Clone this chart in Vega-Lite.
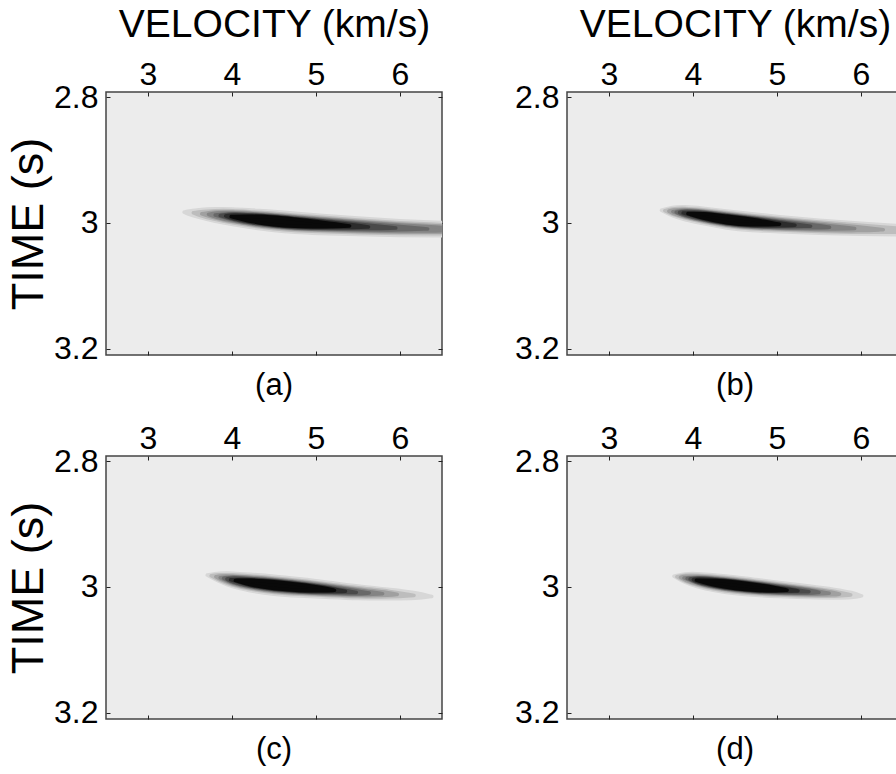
{
"$schema":"https://vega.github.io/schema/vega-lite/v6.json",
"autosize":{"type":"none"},
"padding":{"left":106,"top":92,"right":790,"bottom":682},
"background":"white",
"config":{
 "font":"Liberation Sans",
 "view":{"stroke":"#444","strokeWidth":1.5,"fill":"#ececec"},
 "axis":{"domain":false,"grid":false,"tickSize":-4,"tickColor":"#222","tickWidth":1,"labelFont":"Liberation Sans","labelFontSize":32,"labelColor":"#000","labelFlush":false,"labelOverlap":false,"titleFont":"Liberation Sans","titleFontWeight":"normal","titleColor":"#000"},
 "title":{"font":"Liberation Sans","fontSize":31,"fontWeight":"normal","color":"#000"}
},
"columns":2,
"spacing":{"row":101,"column":125},
"bounds":"flush",
"datasets":{"blob":[
{"p":"a","k":1,"v":3.43,"lo":2.983,"hi":2.983},{"p":"a","k":1,"v":3.45,"lo":2.9817,"hi":2.9847},{"p":"a","k":1,"v":3.6,"lo":2.979,"hi":2.991},{"p":"a","k":1,"v":3.8,"lo":2.9774,"hi":2.9976},{"p":"a","k":1,"v":4.0,"lo":2.9774,"hi":3.0026},{"p":"a","k":1,"v":4.25,"lo":2.9798,"hi":3.0082},{"p":"a","k":1,"v":4.5,"lo":2.9817,"hi":3.0123},{"p":"a","k":1,"v":4.75,"lo":2.9849,"hi":3.0151},{"p":"a","k":1,"v":5.0,"lo":2.9873,"hi":3.0167},{"p":"a","k":1,"v":5.5,"lo":2.9923,"hi":3.0187},{"p":"a","k":1,"v":6.0,"lo":2.9967,"hi":3.0203},{"p":"a","k":1,"v":6.5,"lo":2.9996,"hi":3.0204},
{"p":"a","k":2,"v":3.54,"lo":2.984,"hi":2.984},{"p":"a","k":2,"v":3.6,"lo":2.9822,"hi":2.9878},{"p":"a","k":2,"v":3.8,"lo":2.9803,"hi":2.9947},{"p":"a","k":2,"v":4.0,"lo":2.9802,"hi":2.9998},{"p":"a","k":2,"v":4.25,"lo":2.9826,"hi":3.0054},{"p":"a","k":2,"v":4.5,"lo":2.9846,"hi":3.0094},{"p":"a","k":2,"v":4.75,"lo":2.9878,"hi":3.0122},{"p":"a","k":2,"v":5.0,"lo":2.9904,"hi":3.0136},{"p":"a","k":2,"v":5.5,"lo":2.9954,"hi":3.0156},{"p":"a","k":2,"v":6.0,"lo":2.9999,"hi":3.0171},{"p":"a","k":2,"v":6.5,"lo":3.0028,"hi":3.0172},
{"p":"a","k":3,"v":3.64,"lo":2.9855,"hi":2.9855},{"p":"a","k":3,"v":3.8,"lo":2.9824,"hi":2.9926},{"p":"a","k":3,"v":4.0,"lo":2.982,"hi":2.998},{"p":"a","k":3,"v":4.25,"lo":2.9843,"hi":3.0037},{"p":"a","k":3,"v":4.5,"lo":2.9863,"hi":3.0077},{"p":"a","k":3,"v":4.75,"lo":2.9895,"hi":3.0105},{"p":"a","k":3,"v":5.0,"lo":2.9922,"hi":3.0118},{"p":"a","k":3,"v":5.5,"lo":2.9974,"hi":3.0136},{"p":"a","k":3,"v":6.0,"lo":3.002,"hi":3.015},{"p":"a","k":3,"v":6.5,"lo":3.0051,"hi":3.0149},
{"p":"a","k":4,"v":3.72,"lo":2.9865,"hi":2.9865},{"p":"a","k":4,"v":3.8,"lo":2.9842,"hi":2.9908},{"p":"a","k":4,"v":4.0,"lo":2.9834,"hi":2.9966},{"p":"a","k":4,"v":4.25,"lo":2.9855,"hi":3.0025},{"p":"a","k":4,"v":4.5,"lo":2.9875,"hi":3.0065},{"p":"a","k":4,"v":4.75,"lo":2.9907,"hi":3.0093},{"p":"a","k":4,"v":5.0,"lo":2.9935,"hi":3.0105},{"p":"a","k":4,"v":5.5,"lo":2.9989,"hi":3.0121},{"p":"a","k":4,"v":6.0,"lo":3.0037,"hi":3.0133},{"p":"a","k":4,"v":6.5,"lo":3.0073,"hi":3.0127},
{"p":"a","k":5,"v":3.8,"lo":2.9875,"hi":2.9875},{"p":"a","k":5,"v":4.0,"lo":2.9845,"hi":2.9955},{"p":"a","k":5,"v":4.25,"lo":2.9865,"hi":3.0015},{"p":"a","k":5,"v":4.5,"lo":2.9884,"hi":3.0056},{"p":"a","k":5,"v":4.75,"lo":2.9917,"hi":3.0083},{"p":"a","k":5,"v":5.0,"lo":2.9946,"hi":3.0094},{"p":"a","k":5,"v":5.5,"lo":3.0003,"hi":3.0107},{"p":"a","k":5,"v":6.0,"lo":3.0054,"hi":3.0116},{"p":"a","k":5,"v":6.33,"lo":3.0096,"hi":3.0096},
{"p":"a","k":6,"v":3.86,"lo":2.9883,"hi":2.9883},{"p":"a","k":6,"v":4.0,"lo":2.9856,"hi":2.9944},{"p":"a","k":6,"v":4.25,"lo":2.9874,"hi":3.0006},{"p":"a","k":6,"v":4.5,"lo":2.9893,"hi":3.0047},{"p":"a","k":6,"v":4.75,"lo":2.9925,"hi":3.0075},{"p":"a","k":6,"v":5.0,"lo":2.9955,"hi":3.0085},{"p":"a","k":6,"v":5.5,"lo":3.0017,"hi":3.0093},{"p":"a","k":6,"v":5.95,"lo":3.0082,"hi":3.0082},
{"p":"a","k":7,"v":3.925,"lo":2.989,"hi":2.989},{"p":"a","k":7,"v":4.0,"lo":2.9869,"hi":2.9931},{"p":"a","k":7,"v":4.25,"lo":2.9883,"hi":2.9997},{"p":"a","k":7,"v":4.5,"lo":2.9901,"hi":3.0039},{"p":"a","k":7,"v":4.75,"lo":2.9934,"hi":3.0066},{"p":"a","k":7,"v":5.0,"lo":2.9965,"hi":3.0075},{"p":"a","k":7,"v":5.5,"lo":3.0036,"hi":3.0074},{"p":"a","k":7,"v":5.625,"lo":3.0064,"hi":3.0064},
{"p":"a","k":8,"v":3.99,"lo":2.99,"hi":2.99},{"p":"a","k":8,"v":4.25,"lo":2.9892,"hi":2.9988},{"p":"a","k":8,"v":4.5,"lo":2.9909,"hi":3.0031},{"p":"a","k":8,"v":4.75,"lo":2.9942,"hi":3.0058},{"p":"a","k":8,"v":5.0,"lo":2.9976,"hi":3.0064},{"p":"a","k":8,"v":5.4,"lo":3.005,"hi":3.005},
{"p":"b","k":1,"v":3.625,"lo":2.98,"hi":2.98},{"p":"b","k":1,"v":3.75,"lo":2.975,"hi":2.989},{"p":"b","k":1,"v":3.9,"lo":2.974,"hi":2.995},{"p":"b","k":1,"v":4.1,"lo":2.9762,"hi":3.0008},{"p":"b","k":1,"v":4.4,"lo":2.9813,"hi":3.0087},{"p":"b","k":1,"v":4.7,"lo":2.9855,"hi":3.0125},{"p":"b","k":1,"v":5.0,"lo":2.9899,"hi":3.0141},{"p":"b","k":1,"v":5.5,"lo":2.996,"hi":3.0166},{"p":"b","k":1,"v":6.0,"lo":3.0006,"hi":3.0184},{"p":"b","k":1,"v":6.5,"lo":3.005,"hi":3.019},
{"p":"b","k":2,"v":3.665,"lo":2.9806,"hi":2.9806},{"p":"b","k":2,"v":3.75,"lo":2.9774,"hi":2.9866},{"p":"b","k":2,"v":3.9,"lo":2.9765,"hi":2.9925},{"p":"b","k":2,"v":4.1,"lo":2.9787,"hi":2.9983},{"p":"b","k":2,"v":4.4,"lo":2.9838,"hi":3.0062},{"p":"b","k":2,"v":4.7,"lo":2.9881,"hi":3.0099},{"p":"b","k":2,"v":5.0,"lo":2.9927,"hi":3.0113},{"p":"b","k":2,"v":5.5,"lo":2.9989,"hi":3.0137},{"p":"b","k":2,"v":6.0,"lo":3.0037,"hi":3.0153},{"p":"b","k":2,"v":6.5,"lo":3.0091,"hi":3.0149},
{"p":"b","k":3,"v":3.713,"lo":2.9814,"hi":2.9814},{"p":"b","k":3,"v":3.75,"lo":2.9794,"hi":2.9846},{"p":"b","k":3,"v":3.9,"lo":2.9781,"hi":2.9909},{"p":"b","k":3,"v":4.1,"lo":2.9803,"hi":2.9967},{"p":"b","k":3,"v":4.4,"lo":2.9854,"hi":3.0046},{"p":"b","k":3,"v":4.7,"lo":2.9897,"hi":3.0083},{"p":"b","k":3,"v":5.0,"lo":2.9944,"hi":3.0096},{"p":"b","k":3,"v":5.5,"lo":3.0008,"hi":3.0118},{"p":"b","k":3,"v":6.0,"lo":3.0062,"hi":3.0128},{"p":"b","k":3,"v":6.265,"lo":3.0108,"hi":3.0108},
{"p":"b","k":4,"v":3.76,"lo":2.9822,"hi":2.9822},{"p":"b","k":4,"v":3.9,"lo":2.9793,"hi":2.9897},{"p":"b","k":4,"v":4.1,"lo":2.9813,"hi":2.9957},{"p":"b","k":4,"v":4.4,"lo":2.9864,"hi":3.0036},{"p":"b","k":4,"v":4.7,"lo":2.9908,"hi":3.0072},{"p":"b","k":4,"v":5.0,"lo":2.9957,"hi":3.0083},{"p":"b","k":4,"v":5.5,"lo":3.0024,"hi":3.0102},{"p":"b","k":4,"v":5.925,"lo":3.009,"hi":3.009},
{"p":"b","k":5,"v":3.8,"lo":2.983,"hi":2.983},{"p":"b","k":5,"v":3.9,"lo":2.9804,"hi":2.9886},{"p":"b","k":5,"v":4.1,"lo":2.9823,"hi":2.9947},{"p":"b","k":5,"v":4.4,"lo":2.9873,"hi":3.0027},{"p":"b","k":5,"v":4.7,"lo":2.9918,"hi":3.0062},{"p":"b","k":5,"v":5.0,"lo":2.9968,"hi":3.0072},{"p":"b","k":5,"v":5.5,"lo":3.0043,"hi":3.0083},{"p":"b","k":5,"v":5.625,"lo":3.0071,"hi":3.0071},
{"p":"b","k":6,"v":3.84,"lo":2.9835,"hi":2.9835},{"p":"b","k":6,"v":3.9,"lo":2.9814,"hi":2.9876},{"p":"b","k":6,"v":4.1,"lo":2.9831,"hi":2.9939},{"p":"b","k":6,"v":4.4,"lo":2.988,"hi":3.002},{"p":"b","k":6,"v":4.7,"lo":2.9925,"hi":3.0055},{"p":"b","k":6,"v":5.0,"lo":2.9978,"hi":3.0062},{"p":"b","k":6,"v":5.4,"lo":3.0054,"hi":3.0054},
{"p":"b","k":7,"v":3.883,"lo":2.9842,"hi":2.9842},{"p":"b","k":7,"v":4.1,"lo":2.9839,"hi":2.9931},{"p":"b","k":7,"v":4.4,"lo":2.9888,"hi":3.0012},{"p":"b","k":7,"v":4.7,"lo":2.9933,"hi":3.0047},{"p":"b","k":7,"v":5.0,"lo":2.9991,"hi":3.0049},{"p":"b","k":7,"v":5.214,"lo":3.0039,"hi":3.0039},
{"p":"b","k":8,"v":3.94,"lo":2.9853,"hi":2.9853},{"p":"b","k":8,"v":4.1,"lo":2.9848,"hi":2.9922},{"p":"b","k":8,"v":4.4,"lo":2.9895,"hi":3.0005},{"p":"b","k":8,"v":4.7,"lo":2.9941,"hi":3.0039},{"p":"b","k":8,"v":5.03,"lo":3.0022,"hi":3.0022},
{"p":"c","k":1,"v":3.705,"lo":2.9812,"hi":2.9812},{"p":"c","k":1,"v":3.85,"lo":2.978,"hi":2.992},{"p":"c","k":1,"v":4.0,"lo":2.978,"hi":3.0},{"p":"c","k":1,"v":4.2,"lo":2.9798,"hi":3.0062},{"p":"c","k":1,"v":4.5,"lo":2.9828,"hi":3.0122},{"p":"c","k":1,"v":4.8,"lo":2.9872,"hi":3.0148},{"p":"c","k":1,"v":5.1,"lo":2.9917,"hi":3.0163},{"p":"c","k":1,"v":5.5,"lo":2.9991,"hi":3.0189},{"p":"c","k":1,"v":5.9,"lo":3.0041,"hi":3.0189},{"p":"c","k":1,"v":6.2,"lo":3.0093,"hi":3.0187},{"p":"c","k":1,"v":6.378,"lo":3.0153,"hi":3.0153},
{"p":"c","k":2,"v":3.752,"lo":2.9823,"hi":2.9823},{"p":"c","k":2,"v":3.85,"lo":2.9804,"hi":2.9896},{"p":"c","k":2,"v":4.0,"lo":2.9806,"hi":2.9974},{"p":"c","k":2,"v":4.2,"lo":2.9825,"hi":3.0035},{"p":"c","k":2,"v":4.5,"lo":2.9856,"hi":3.0094},{"p":"c","k":2,"v":4.8,"lo":2.9899,"hi":3.0121},{"p":"c","k":2,"v":5.1,"lo":2.9944,"hi":3.0136},{"p":"c","k":2,"v":5.5,"lo":3.0017,"hi":3.0163},{"p":"c","k":2,"v":5.9,"lo":3.0069,"hi":3.0161},{"p":"c","k":2,"v":6.167,"lo":3.0137,"hi":3.0137},
{"p":"c","k":3,"v":3.808,"lo":2.9839,"hi":2.9839},{"p":"c","k":3,"v":3.85,"lo":2.9824,"hi":2.9876},{"p":"c","k":3,"v":4.0,"lo":2.9823,"hi":2.9957},{"p":"c","k":3,"v":4.2,"lo":2.9841,"hi":3.0019},{"p":"c","k":3,"v":4.5,"lo":2.9872,"hi":3.0078},{"p":"c","k":3,"v":4.8,"lo":2.9915,"hi":3.0105},{"p":"c","k":3,"v":5.1,"lo":2.9961,"hi":3.0119},{"p":"c","k":3,"v":5.5,"lo":3.0035,"hi":3.0145},{"p":"c","k":3,"v":5.9,"lo":3.0095,"hi":3.0135},{"p":"c","k":3,"v":5.967,"lo":3.0121,"hi":3.0121},
{"p":"c","k":4,"v":3.86,"lo":2.9853,"hi":2.9853},{"p":"c","k":4,"v":4.0,"lo":2.9835,"hi":2.9945},{"p":"c","k":4,"v":4.2,"lo":2.9853,"hi":3.0007},{"p":"c","k":4,"v":4.5,"lo":2.9883,"hi":3.0067},{"p":"c","k":4,"v":4.8,"lo":2.9927,"hi":3.0093},{"p":"c","k":4,"v":5.1,"lo":2.9973,"hi":3.0107},{"p":"c","k":4,"v":5.5,"lo":3.0049,"hi":3.0131},{"p":"c","k":4,"v":5.793,"lo":3.0108,"hi":3.0108},
{"p":"c","k":5,"v":3.9,"lo":2.9863,"hi":2.9863},{"p":"c","k":5,"v":4.0,"lo":2.9846,"hi":2.9934},{"p":"c","k":5,"v":4.2,"lo":2.9863,"hi":2.9997},{"p":"c","k":5,"v":4.5,"lo":2.9893,"hi":3.0057},{"p":"c","k":5,"v":4.8,"lo":2.9936,"hi":3.0084},{"p":"c","k":5,"v":5.1,"lo":2.9983,"hi":3.0097},{"p":"c","k":5,"v":5.5,"lo":3.0064,"hi":3.0116},{"p":"c","k":5,"v":5.633,"lo":3.0098,"hi":3.0098},
{"p":"c","k":6,"v":3.94,"lo":2.9874,"hi":2.9874},{"p":"c","k":6,"v":4.0,"lo":2.9858,"hi":2.9922},{"p":"c","k":6,"v":4.2,"lo":2.9872,"hi":2.9988},{"p":"c","k":6,"v":4.5,"lo":2.9901,"hi":3.0049},{"p":"c","k":6,"v":4.8,"lo":2.9944,"hi":3.0076},{"p":"c","k":6,"v":5.1,"lo":2.9993,"hi":3.0087},{"p":"c","k":6,"v":5.48,"lo":3.0088,"hi":3.0088},
{"p":"c","k":7,"v":3.983,"lo":2.9886,"hi":2.9886},{"p":"c","k":7,"v":4.2,"lo":2.9881,"hi":2.9979},{"p":"c","k":7,"v":4.5,"lo":2.9909,"hi":3.0041},{"p":"c","k":7,"v":4.8,"lo":2.9952,"hi":3.0068},{"p":"c","k":7,"v":5.1,"lo":3.0003,"hi":3.0077},{"p":"c","k":7,"v":5.35,"lo":3.0071,"hi":3.0071},
{"p":"c","k":8,"v":4.04,"lo":2.9898,"hi":2.9898},{"p":"c","k":8,"v":4.2,"lo":2.989,"hi":2.997},{"p":"c","k":8,"v":4.5,"lo":2.9916,"hi":3.0034},{"p":"c","k":8,"v":4.8,"lo":2.996,"hi":3.006},{"p":"c","k":8,"v":5.1,"lo":3.0016,"hi":3.0064},{"p":"c","k":8,"v":5.22,"lo":3.0055,"hi":3.0055},
{"p":"d","k":1,"v":3.774,"lo":2.983,"hi":2.983},{"p":"d","k":1,"v":3.9,"lo":2.9788,"hi":2.9932},{"p":"d","k":1,"v":4.05,"lo":2.9788,"hi":3.0002},{"p":"d","k":1,"v":4.25,"lo":2.981,"hi":3.006},{"p":"d","k":1,"v":4.5,"lo":2.9841,"hi":3.0109},{"p":"d","k":1,"v":4.75,"lo":2.9884,"hi":3.0136},{"p":"d","k":1,"v":5.0,"lo":2.9926,"hi":3.0154},{"p":"d","k":1,"v":5.4,"lo":2.9988,"hi":3.0172},{"p":"d","k":1,"v":5.7,"lo":3.0042,"hi":3.0178},{"p":"d","k":1,"v":5.9,"lo":3.0088,"hi":3.0172},{"p":"d","k":1,"v":6.007,"lo":3.0143,"hi":3.0143},
{"p":"d","k":2,"v":3.809,"lo":2.9839,"hi":2.9839},{"p":"d","k":2,"v":3.9,"lo":2.9811,"hi":2.9909},{"p":"d","k":2,"v":4.05,"lo":2.9813,"hi":2.9977},{"p":"d","k":2,"v":4.25,"lo":2.9835,"hi":3.0035},{"p":"d","k":2,"v":4.5,"lo":2.9866,"hi":3.0084},{"p":"d","k":2,"v":4.75,"lo":2.9909,"hi":3.0111},{"p":"d","k":2,"v":5.0,"lo":2.9951,"hi":3.0129},{"p":"d","k":2,"v":5.4,"lo":3.0013,"hi":3.0147},{"p":"d","k":2,"v":5.7,"lo":3.0068,"hi":3.0152},{"p":"d","k":2,"v":5.878,"lo":3.0128,"hi":3.0128},
{"p":"d","k":3,"v":3.851,"lo":2.9849,"hi":2.9849},{"p":"d","k":3,"v":3.9,"lo":2.9829,"hi":2.9891},{"p":"d","k":3,"v":4.05,"lo":2.9828,"hi":2.9962},{"p":"d","k":3,"v":4.25,"lo":2.985,"hi":3.002},{"p":"d","k":3,"v":4.5,"lo":2.9881,"hi":3.0069},{"p":"d","k":3,"v":4.75,"lo":2.9923,"hi":3.0097},{"p":"d","k":3,"v":5.0,"lo":2.9966,"hi":3.0114},{"p":"d","k":3,"v":5.4,"lo":3.0029,"hi":3.0131},{"p":"d","k":3,"v":5.7,"lo":3.0092,"hi":3.0128},{"p":"d","k":3,"v":5.744,"lo":3.0114,"hi":3.0114},
{"p":"d","k":4,"v":3.893,"lo":2.9858,"hi":2.9858},{"p":"d","k":4,"v":4.05,"lo":2.9839,"hi":2.9951},{"p":"d","k":4,"v":4.25,"lo":2.9861,"hi":3.0009},{"p":"d","k":4,"v":4.5,"lo":2.9891,"hi":3.0059},{"p":"d","k":4,"v":4.75,"lo":2.9934,"hi":3.0086},{"p":"d","k":4,"v":5.0,"lo":2.9977,"hi":3.0103},{"p":"d","k":4,"v":5.4,"lo":3.0042,"hi":3.0118},{"p":"d","k":4,"v":5.62,"lo":3.0102,"hi":3.0102},
{"p":"d","k":5,"v":3.93,"lo":2.9867,"hi":2.9867},{"p":"d","k":5,"v":4.05,"lo":2.9849,"hi":2.9941},{"p":"d","k":5,"v":4.25,"lo":2.987,"hi":3.0},{"p":"d","k":5,"v":4.5,"lo":2.99,"hi":3.005},{"p":"d","k":5,"v":4.75,"lo":2.9942,"hi":3.0078},{"p":"d","k":5,"v":5.0,"lo":2.9987,"hi":3.0093},{"p":"d","k":5,"v":5.4,"lo":3.0056,"hi":3.0104},{"p":"d","k":5,"v":5.5,"lo":3.0088,"hi":3.0088},
{"p":"d","k":6,"v":3.966,"lo":2.9875,"hi":2.9875},{"p":"d","k":6,"v":4.05,"lo":2.9858,"hi":2.9932},{"p":"d","k":6,"v":4.25,"lo":2.9878,"hi":2.9992},{"p":"d","k":6,"v":4.5,"lo":2.9907,"hi":3.0043},{"p":"d","k":6,"v":4.75,"lo":2.995,"hi":3.007},{"p":"d","k":6,"v":5.0,"lo":2.9996,"hi":3.0084},{"p":"d","k":6,"v":5.38,"lo":3.0078,"hi":3.0078},
{"p":"d","k":7,"v":4.005,"lo":2.9885,"hi":2.9885},{"p":"d","k":7,"v":4.05,"lo":2.9869,"hi":2.9921},{"p":"d","k":7,"v":4.25,"lo":2.9885,"hi":2.9985},{"p":"d","k":7,"v":4.5,"lo":2.9914,"hi":3.0036},{"p":"d","k":7,"v":4.75,"lo":2.9957,"hi":3.0063},{"p":"d","k":7,"v":5.0,"lo":3.0006,"hi":3.0074},{"p":"d","k":7,"v":5.25,"lo":3.0065,"hi":3.0065},
{"p":"d","k":8,"v":4.04,"lo":2.9893,"hi":2.9893},{"p":"d","k":8,"v":4.25,"lo":2.9893,"hi":2.9977},{"p":"d","k":8,"v":4.5,"lo":2.9921,"hi":3.0029},{"p":"d","k":8,"v":4.75,"lo":2.9965,"hi":3.0055},{"p":"d","k":8,"v":5.0,"lo":3.0017,"hi":3.0063},{"p":"d","k":8,"v":5.12,"lo":3.0052,"hi":3.0052}
]},
"concat":[
{"width":336,"height":263,"data":{"name":"blob"},"transform":[{"filter":{"field":"p","equal":"a"}}],
 "title":{"text":"(a)","orient":"bottom","offset":6},
 "layer":[
  {"mark":{"type":"area","interpolate":"basis","orient":"vertical","clip":true,"strokeWidth":3.5,"strokeJoin":"round"},
   "encoding":{
    "x":{"field":"v","type":"quantitative","scale":{"domain":[2.5,6.5],"nice":false,"zero":false},"axis":{"orient":"top","values":[3,4,5,6],"labelPadding":5,"title":"VELOCITY (km/s)","titleFontSize":39,"titlePadding":14}},
    "y":{"field":"lo","type":"quantitative","stack":null,"scale":{"domain":[2.792,3.21],"reverse":true,"nice":false,"zero":false},"axis":{"orient":"left","values":[2.8,3,3.2],"format":"~g","labelPadding":12,"title":"TIME (s)","titleFontSize":45,"titlePadding":2}},
    "y2":{"field":"hi"},
    "color":{"field":"k","type":"ordinal","scale":{"domain":[1,2,3,4,5,6,7,8],"range":["#d7d7d7","#bdbdbd","#a0a0a0","#848484","#686868","#4a4a4a","#2c2c2c","#090909"]},"legend":null},
    "stroke":{"field":"k","type":"ordinal","scale":{"domain":[1,2,3,4,5,6,7,8],"range":["#d7d7d7","#bdbdbd","#a0a0a0","#848484","#686868","#4a4a4a","#2c2c2c","#090909"]},"legend":null}
   }},
  {"mark":{"type":"point","opacity":0},
   "encoding":{
    "x":{"field":"v","type":"quantitative","axis":{"orient":"bottom","values":[3,4,5,6],"labels":false,"title":null}},
    "y":{"field":"lo","type":"quantitative","axis":{"orient":"right","values":[2.8,3,3.2],"labels":false,"title":null}}
   }}
 ],
 "resolve":{"axis":{"x":"independent","y":"independent"}}
},
{"width":336,"height":263,"data":{"name":"blob"},"transform":[{"filter":{"field":"p","equal":"b"}}],
 "title":{"text":"(b)","orient":"bottom","offset":6},
 "layer":[
  {"mark":{"type":"area","interpolate":"basis","orient":"vertical","clip":true,"strokeWidth":3.5,"strokeJoin":"round"},
   "encoding":{
    "x":{"field":"v","type":"quantitative","scale":{"domain":[2.5,6.5],"nice":false,"zero":false},"axis":{"orient":"top","values":[3,4,5,6],"labelPadding":5,"title":"VELOCITY (km/s)","titleFontSize":39,"titlePadding":14}},
    "y":{"field":"lo","type":"quantitative","stack":null,"scale":{"domain":[2.792,3.21],"reverse":true,"nice":false,"zero":false},"axis":{"orient":"left","values":[2.8,3,3.2],"format":"~g","labelPadding":12,"title":null}},
    "y2":{"field":"hi"},
    "color":{"field":"k","type":"ordinal","scale":{"domain":[1,2,3,4,5,6,7,8],"range":["#d7d7d7","#bdbdbd","#a0a0a0","#848484","#686868","#4a4a4a","#2c2c2c","#090909"]},"legend":null},
    "stroke":{"field":"k","type":"ordinal","scale":{"domain":[1,2,3,4,5,6,7,8],"range":["#d7d7d7","#bdbdbd","#a0a0a0","#848484","#686868","#4a4a4a","#2c2c2c","#090909"]},"legend":null}
   }},
  {"mark":{"type":"point","opacity":0},
   "encoding":{
    "x":{"field":"v","type":"quantitative","axis":{"orient":"bottom","values":[3,4,5,6],"labels":false,"title":null}},
    "y":{"field":"lo","type":"quantitative","axis":{"orient":"right","values":[2.8,3,3.2],"labels":false,"title":null}}
   }}
 ],
 "resolve":{"axis":{"x":"independent","y":"independent"}}
},
{"width":336,"height":263,"data":{"name":"blob"},"transform":[{"filter":{"field":"p","equal":"c"}}],
 "title":{"text":"(c)","orient":"bottom","offset":6},
 "layer":[
  {"mark":{"type":"area","interpolate":"basis","orient":"vertical","clip":true,"strokeWidth":3.5,"strokeJoin":"round"},
   "encoding":{
    "x":{"field":"v","type":"quantitative","scale":{"domain":[2.5,6.5],"nice":false,"zero":false},"axis":{"orient":"top","values":[3,4,5,6],"labelPadding":5,"title":null}},
    "y":{"field":"lo","type":"quantitative","stack":null,"scale":{"domain":[2.792,3.21],"reverse":true,"nice":false,"zero":false},"axis":{"orient":"left","values":[2.8,3,3.2],"format":"~g","labelPadding":12,"title":"TIME (s)","titleFontSize":45,"titlePadding":2}},
    "y2":{"field":"hi"},
    "color":{"field":"k","type":"ordinal","scale":{"domain":[1,2,3,4,5,6,7,8],"range":["#d7d7d7","#bdbdbd","#a0a0a0","#848484","#686868","#4a4a4a","#2c2c2c","#090909"]},"legend":null},
    "stroke":{"field":"k","type":"ordinal","scale":{"domain":[1,2,3,4,5,6,7,8],"range":["#d7d7d7","#bdbdbd","#a0a0a0","#848484","#686868","#4a4a4a","#2c2c2c","#090909"]},"legend":null}
   }},
  {"mark":{"type":"point","opacity":0},
   "encoding":{
    "x":{"field":"v","type":"quantitative","axis":{"orient":"bottom","values":[3,4,5,6],"labels":false,"title":null}},
    "y":{"field":"lo","type":"quantitative","axis":{"orient":"right","values":[2.8,3,3.2],"labels":false,"title":null}}
   }}
 ],
 "resolve":{"axis":{"x":"independent","y":"independent"}}
},
{"width":336,"height":263,"data":{"name":"blob"},"transform":[{"filter":{"field":"p","equal":"d"}}],
 "title":{"text":"(d)","orient":"bottom","offset":6},
 "layer":[
  {"mark":{"type":"area","interpolate":"basis","orient":"vertical","clip":true,"strokeWidth":3.5,"strokeJoin":"round"},
   "encoding":{
    "x":{"field":"v","type":"quantitative","scale":{"domain":[2.5,6.5],"nice":false,"zero":false},"axis":{"orient":"top","values":[3,4,5,6],"labelPadding":5,"title":null}},
    "y":{"field":"lo","type":"quantitative","stack":null,"scale":{"domain":[2.792,3.21],"reverse":true,"nice":false,"zero":false},"axis":{"orient":"left","values":[2.8,3,3.2],"format":"~g","labelPadding":12,"title":null}},
    "y2":{"field":"hi"},
    "color":{"field":"k","type":"ordinal","scale":{"domain":[1,2,3,4,5,6,7,8],"range":["#d7d7d7","#bdbdbd","#a0a0a0","#848484","#686868","#4a4a4a","#2c2c2c","#090909"]},"legend":null},
    "stroke":{"field":"k","type":"ordinal","scale":{"domain":[1,2,3,4,5,6,7,8],"range":["#d7d7d7","#bdbdbd","#a0a0a0","#848484","#686868","#4a4a4a","#2c2c2c","#090909"]},"legend":null}
   }},
  {"mark":{"type":"point","opacity":0},
   "encoding":{
    "x":{"field":"v","type":"quantitative","axis":{"orient":"bottom","values":[3,4,5,6],"labels":false,"title":null}},
    "y":{"field":"lo","type":"quantitative","axis":{"orient":"right","values":[2.8,3,3.2],"labels":false,"title":null}}
   }}
 ],
 "resolve":{"axis":{"x":"independent","y":"independent"}}
}
]
}
